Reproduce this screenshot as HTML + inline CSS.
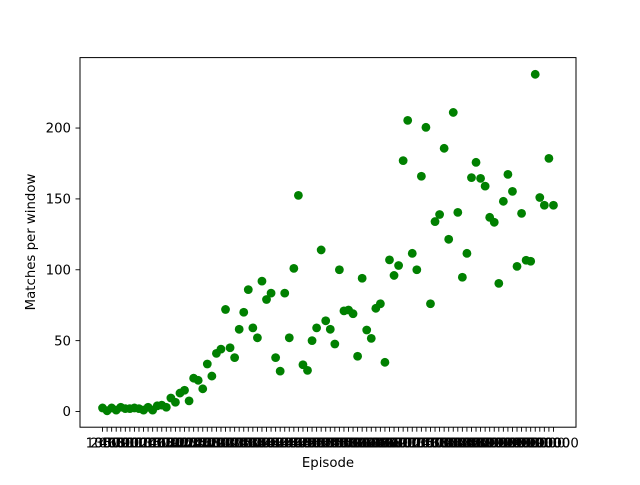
<!DOCTYPE html>
<html><head><meta charset="utf-8"><style>
body{margin:0;background:#fff;}
svg text{font-family:"DejaVu Sans","Liberation Sans",sans-serif;font-size:13.3px;fill:#000;}
</style></head><body>
<svg id="chart" width="640" height="480">
<rect x="0" y="0" width="640" height="480" fill="#fff"/>
<g id="ticks"></g>
<g id="marks"></g>
<rect x="80" y="57.6" width="496" height="369.6" fill="none" stroke="#000" stroke-width="1"/>
<text x="328" y="467" text-anchor="middle">Episode</text>
<text transform="translate(35,242) rotate(-90)" text-anchor="middle">Matches per window</text>
</svg>
<script>
const episodes = Array.from({length:100},(_,i)=>(i+1)*1000);
const matches = [2.5,0.5,2.5,1,3,2,2,2.5,2,1,3,1,4,4.5,3,9.5,6.5,13,15,7.5,
23.5,22,16,33.5,25,41,44,72,45,38,58,70,86,59,52,92,79,83.5,38,28.5,
83.5,52,101,152.5,33,29,50,59,114,64,58,47.6,100,71,71.6,69,39,94,57.5,51.6,
72.8,76,34.7,107,96,103,177,205.4,111.6,100,166,200.5,76,134,139,185.7,121.5,211,140.5,94.7,
111.6,165,175.8,164.5,159,137,133.5,90.4,148.3,167.3,155.3,102.4,139.8,106.7,106,237.9,151,145.5,178.6,145.5];
const yTicks = [0,50,100,150,200];
const xLabels = episodes.map(String);

const NS="http://www.w3.org/2000/svg";
const L=80,R=576,T=57.6,B=427.2;
const xMin=-4.95, xMax=103.95, yMin=-11.08, yMax=249.7;
function xs(i){return L+(i-xMin)/(xMax-xMin)*(R-L);}
function ys(v){return B-(v-yMin)/(yMax-yMin)*(B-T);}
const tg=document.getElementById('ticks'), mg=document.getElementById('marks');
function mk(tag,attrs,parent){const e=document.createElementNS(NS,tag);for(const k in attrs)e.setAttribute(k,attrs[k]);parent.appendChild(e);return e;}
yTicks.forEach(v=>{
  const y=ys(v);
  const t=mk('line',{x1:L-4.5,x2:L,y1:y,y2:y,stroke:'#000','stroke-width':0.9},tg);
  
  
  const lb=mk('text',{x:L-9,y:y+4.7,'text-anchor':'end'},tg);
  lb.textContent=String(v);
  
  
});
xLabels.forEach((s,i)=>{
  const x=xs(i);
  const t=mk('line',{x1:x,x2:x,y1:B,y2:B+4.5,stroke:'#000','stroke-width':0.9},tg);
  
  
  const lb=mk('text',{x:x,y:B+20.5,'text-anchor':'middle'},tg);
  lb.textContent=s;
  
  
});
matches.forEach((v,i)=>{
  const c=mk('circle',{cx:xs(i),cy:ys(v),r:4.4,fill:'#008000'},mg);
  
  
});
</script>
</body></html>
